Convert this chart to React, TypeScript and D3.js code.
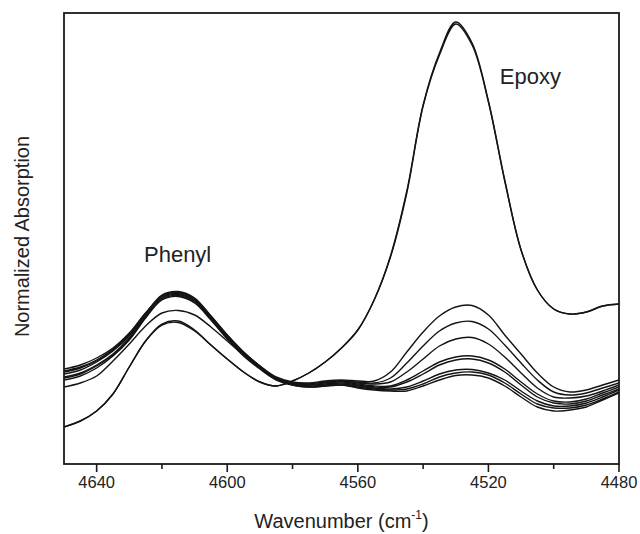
import React from 'react';
import * as d3 from 'd3';

// Wavenumber grid (cm^-1), left to right on the reversed axis
const wavenumbers = [
  4650, 4645, 4640, 4635, 4630, 4625, 4620, 4615, 4610, 4605,
  4600, 4595, 4590, 4585, 4580, 4575, 4570, 4565, 4560, 4555,
  4550, 4545, 4540, 4535, 4530, 4525, 4520, 4515, 4510, 4505,
  4500, 4495, 4490, 4485, 4480,
];

// Normalized absorption spectra (arbitrary units)
const spectrumA1 = [
  0.37, 0.43, 0.53, 0.70, 0.97, 1.23, 1.39, 1.415, 1.33, 1.19,
  1.05, 0.92, 0.82, 0.78, 0.83, 0.91, 1.02, 1.16, 1.34, 1.64,
  2.07, 2.71, 3.58, 4.09, 4.40, 4.19, 3.62, 2.83, 2.14, 1.74,
  1.55, 1.50, 1.52, 1.58, 1.60,
];
const spectrumA2 = [
  0.37, 0.43, 0.53, 0.70, 0.97, 1.23, 1.40, 1.43, 1.34, 1.19,
  1.05, 0.92, 0.82, 0.78, 0.83, 0.91, 1.02, 1.16, 1.34, 1.64,
  2.08, 2.73, 3.59, 4.11, 4.42, 4.21, 3.63, 2.84, 2.14, 1.74,
  1.55, 1.50, 1.52, 1.58, 1.60,
];
const spectrumB1 = [
  0.93, 0.97, 1.04, 1.15, 1.30, 1.51, 1.68, 1.715, 1.65, 1.48,
  1.29, 1.12, 0.98, 0.87, 0.82, 0.81, 0.83, 0.84, 0.83, 0.83,
  0.92, 1.12, 1.32, 1.48, 1.57, 1.585, 1.49, 1.29, 1.10, 0.91,
  0.77, 0.72, 0.74, 0.79, 0.84,
];
const spectrumB2 = [
  0.95, 0.99, 1.06, 1.16, 1.31, 1.51, 1.67, 1.705, 1.64, 1.47,
  1.28, 1.11, 0.98, 0.86, 0.81, 0.80, 0.82, 0.83, 0.82, 0.81,
  0.86, 1.01, 1.18, 1.33, 1.41, 1.425, 1.35, 1.19, 1.01, 0.84,
  0.72, 0.69, 0.71, 0.76, 0.81,
];
const spectrumB3 = [
  0.90, 0.94, 1.02, 1.13, 1.28, 1.50, 1.69, 1.725, 1.66, 1.48,
  1.29, 1.12, 0.98, 0.86, 0.81, 0.80, 0.82, 0.83, 0.81, 0.80,
  0.82, 0.92, 1.05, 1.18, 1.25, 1.265, 1.20, 1.07, 0.91, 0.76,
  0.67, 0.66, 0.68, 0.73, 0.79,
];
const spectrumB4 = [
  0.87, 0.91, 0.99, 1.10, 1.26, 1.48, 1.66, 1.695, 1.63, 1.46,
  1.27, 1.10, 0.97, 0.85, 0.80, 0.79, 0.81, 0.82, 0.80, 0.78,
  0.78, 0.84, 0.93, 1.02, 1.07, 1.08, 1.04, 0.95, 0.82, 0.70,
  0.63, 0.62, 0.65, 0.71, 0.77,
];
const spectrumB5 = [
  0.77, 0.81, 0.88, 1.03, 1.20, 1.38, 1.51, 1.535, 1.49, 1.37,
  1.23, 1.09, 0.97, 0.86, 0.81, 0.79, 0.80, 0.81, 0.79, 0.77,
  0.77, 0.82, 0.90, 0.99, 1.04, 1.05, 1.01, 0.92, 0.79, 0.67,
  0.61, 0.60, 0.63, 0.69, 0.75,
];
const spectrumB6 = [
  0.86, 0.90, 0.98, 1.09, 1.25, 1.47, 1.65, 1.685, 1.62, 1.45,
  1.26, 1.09, 0.96, 0.85, 0.80, 0.78, 0.79, 0.80, 0.78, 0.76,
  0.75, 0.77, 0.83, 0.90, 0.94, 0.945, 0.91, 0.84, 0.73, 0.63,
  0.58, 0.58, 0.61, 0.67, 0.74,
];
const spectrumB7 = [
  0.92, 0.96, 1.03, 1.14, 1.29, 1.50, 1.68, 1.715, 1.65, 1.47,
  1.28, 1.11, 0.97, 0.86, 0.79, 0.77, 0.78, 0.79, 0.77, 0.75,
  0.74, 0.75, 0.80, 0.87, 0.91, 0.92, 0.89, 0.81, 0.70, 0.60,
  0.56, 0.56, 0.59, 0.65, 0.72,
];
const spectrumB8 = [
  0.84, 0.88, 0.96, 1.08, 1.24, 1.46, 1.64, 1.675, 1.61, 1.44,
  1.25, 1.08, 0.95, 0.84, 0.79, 0.77, 0.78, 0.79, 0.76, 0.74,
  0.73, 0.73, 0.78, 0.84, 0.885, 0.89, 0.86, 0.78, 0.67, 0.57,
  0.53, 0.54, 0.57, 0.64, 0.71,
];

const spectra = [
  spectrumB8, spectrumB7, spectrumB6, spectrumB5, spectrumB4,
  spectrumB3, spectrumB2, spectrumB1, spectrumA1, spectrumA2,
];

const majorTicks = [4640, 4600, 4560, 4520, 4480];
const minorTicks = [4620, 4580, 4540, 4500];

const peakLabelTexts = ['Phenyl', 'Epoxy'];
const peakLabelWavenumbers = [4625.5, 4516.5];
const peakLabelValues = [2.02, 3.80];

const xTitle = 'Wavenumber (cm';
const xTitleSup = '-1';
const yTitle = 'Normalized Absorption';

const FONT = "'Liberation Sans', Arial, Helvetica, sans-serif";

export default function App() {
  const width = 640;
  const height = 534;
  const left = 64;
  const right = 619;
  const top = 13;
  const bottom = 464;

  const x = d3.scaleLinear().domain([4650, 4480]).range([left, right]);
  const y = d3.scaleLinear().domain([0, 4.51]).range([bottom, top]);

  const line = d3
    .line<number>()
    .x((_, i) => x(wavenumbers[i]))
    .y((d) => y(d))
    .curve(d3.curveCatmullRom.alpha(0.5));

  return (
    <svg
      width={width}
      height={height}
      style={{ position: 'absolute', left: 0, top: 0, background: '#fff' }}
      fontFamily={FONT}
    >
      <defs>
        <clipPath id="plot-clip">
          <rect x={left} y={top} width={right - left} height={bottom - top} />
        </clipPath>
      </defs>
      <rect x={0} y={0} width={width} height={height} fill="#fff" />

      <g clipPath="url(#plot-clip)">
        {spectra.map((s, i) => (
          <path
            key={i}
            d={line(s) || ''}
            fill="none"
            stroke="#141414"
            strokeWidth={1.4}
            strokeLinejoin="round"
          />
        ))}
      </g>

      {/* frame */}
      <rect
        x={left}
        y={top}
        width={right - left}
        height={bottom - top}
        fill="none"
        stroke="#1a1a1a"
        strokeWidth={1.8}
      />

      {/* ticks */}
      {majorTicks.map((t) => (
        <g key={'M' + t}>
          <line x1={x(t)} x2={x(t)} y1={bottom} y2={bottom + 8} stroke="#1a1a1a" strokeWidth={1.6} />
          <text
            x={x(t)}
            y={bottom + 24}
            textAnchor="middle"
            fontSize={16.5}
            fill="#222"
          >
            {t}
          </text>
        </g>
      ))}
      {minorTicks.map((t) => (
        <line key={'m' + t} x1={x(t)} x2={x(t)} y1={bottom} y2={bottom + 5} stroke="#1a1a1a" strokeWidth={1.6} />
      ))}

      {/* axis titles */}
      <text x={(left + right) / 2} y={528} textAnchor="middle" fontSize={20} fill="#222">
        {xTitle}
        <tspan fontSize={12} dy={-9}>
          {xTitleSup}
        </tspan>
        <tspan dy={9}>)</tspan>
      </text>
      <text
        transform={`translate(29, ${(top + bottom) / 2 - 2}) rotate(-90)`}
        textAnchor="middle"
        fontSize={20}
        fill="#222"
      >
        {yTitle}
      </text>

      {/* peak labels */}
      {peakLabelTexts.map((t, i) => (
        <text
          key={t}
          x={x(peakLabelWavenumbers[i])}
          y={y(peakLabelValues[i])}
          fontSize={22}
          fill="#222"
        >
          {t}
        </text>
      ))}
    </svg>
  );
}
